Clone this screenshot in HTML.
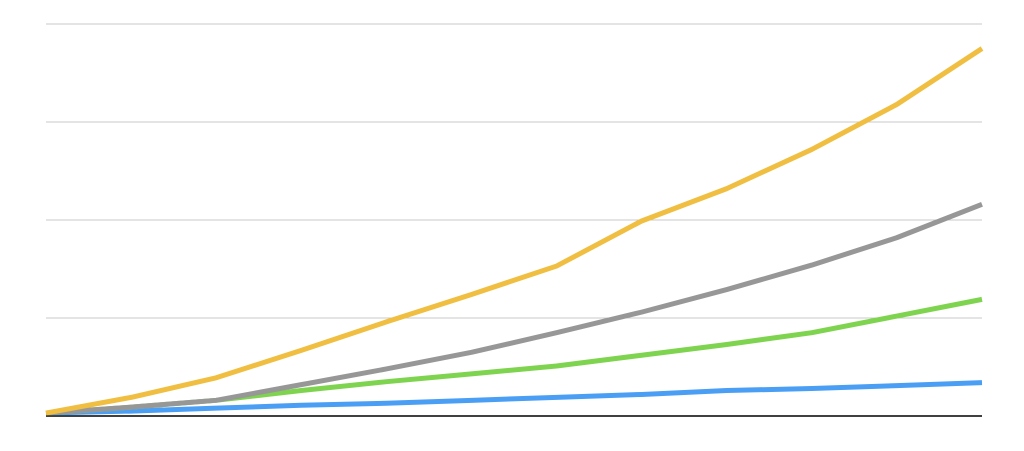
<!DOCTYPE html>
<html><head><meta charset="utf-8"><style>
html,body{margin:0;padding:0;background:#fff;}
svg{display:block;font-family:"Liberation Sans",sans-serif;}
</style></head><body>
<svg id="chart" width="1024" height="451" viewBox="0 0 1024 451" xmlns="http://www.w3.org/2000/svg">
<g id="grid"></g>
<g id="series"></g>
</svg>
<script>
const categories = [1,2,3,4,5,6,7,8,9,10,11,12];
const yTicks = [0,100,200,300,400];
const seriesYellow = [3,19,39,67,96,124,153,199,232,272,318,375];
const seriesGray = [3,9,16,32,48,65,85,106,129,154,182,216];
const seriesGreen = [3,9,16,26,35,43,51,62,73,85,102,119];
const seriesBlue = [3,5,8,11,13,16,19,22,26,28,31,34];

(function(){
const NS = "http://www.w3.org/2000/svg";
const plotLeft = 46, plotRight = 982, plotTop = 24, plotBottom = 416, yMax = 400;
function xScale(i){ return plotLeft + (plotRight-plotLeft) * i / (categories.length-1); }
function yScale(v){ return plotBottom - (plotBottom-plotTop) * v / yMax; }

const grid = document.getElementById('grid');
yTicks.forEach(t => {
  const l = document.createElementNS(NS,'line');
  
  
  l.setAttribute('x1', plotLeft); l.setAttribute('x2', plotRight);
  l.setAttribute('y1', yScale(t)); l.setAttribute('y2', yScale(t));
  l.setAttribute('stroke', t===0 ? '#000' : '#c8c8c8');
  l.setAttribute('stroke-width', t===0 ? 1.5 : 1);
  grid.appendChild(l);
});

const sg = document.getElementById('series');
const defs = [
  ['series-blue', seriesBlue, '#4a9ff5'],
  ['series-green', seriesGreen, '#7ed44f'],
  ['series-gray', seriesGray, '#979797'],
  ['series-yellow', seriesYellow, '#f0be40']
];
defs.forEach(([name, data, color]) => {
  const p = document.createElementNS(NS,'polyline');
  
  
  p.setAttribute('points', data.map((v,i)=>xScale(i)+','+yScale(v)).join(' '));
  p.setAttribute('fill','none');
  p.setAttribute('stroke', color);
  p.setAttribute('stroke-width', 5);
  p.setAttribute('stroke-linejoin','round');
  sg.appendChild(p);
});
})();
</script>
</body></html>
